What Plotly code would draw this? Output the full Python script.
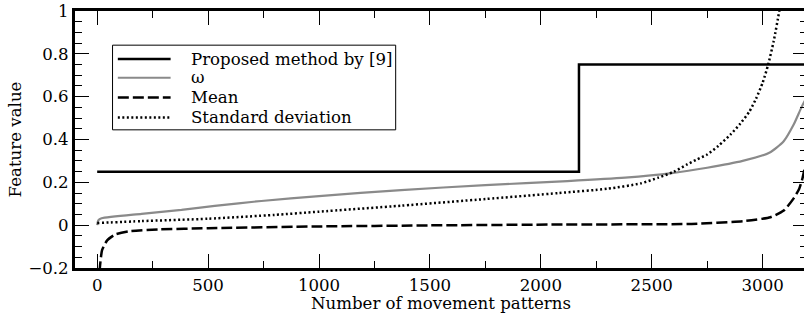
import plotly.graph_objects as go

# ---- data ----
proposed_x = [0, 2172, 3200]
proposed_y = [0.25, 0.75, 0.75]

omega_x = [0, 5, 20, 200, 380, 530, 740, 1000, 1370, 1750, 2120, 2380, 2590, 2750,
           2910, 3030, 3095, 3140, 3175, 3200]
omega_y = [0.0, 0.022, 0.032, 0.053, 0.071, 0.090, 0.113, 0.136, 0.164, 0.187, 0.206,
           0.222, 0.243, 0.268, 0.300, 0.338, 0.392, 0.47, 0.55, 0.60]

mean_x = [3, 8, 12, 22, 45, 82, 142, 277, 500, 1000, 1500, 2100, 2680, 2915, 3035,
          3095, 3140, 3165, 3180, 3200]
mean_y = [-0.5, -0.3, -0.2, -0.117, -0.071, -0.043, -0.029, -0.020, -0.014, -0.006,
          -0.001, 0.003, 0.006, 0.019, 0.037, 0.068, 0.125, 0.17, 0.22, 0.32]

std_x = [0, 200, 500, 800, 1000, 1370, 1750, 2080, 2300, 2450, 2530, 2600, 2660, 2700,
         2750, 2800, 2855, 2900, 2940, 2970, 3000, 3025, 3050, 3075, 3100]
std_y = [0.01, 0.019, 0.03, 0.048, 0.063, 0.091, 0.122, 0.15, 0.17, 0.195, 0.222, 0.25,
         0.284, 0.305, 0.33, 0.37, 0.423, 0.475, 0.53, 0.59, 0.665, 0.75, 0.86,
         1.0, 1.17]

names = ["Proposed method by [9]", "ω", "Mean", "Standard deviation"]

FONT = "DejaVu Serif"
FS = 16.6
GRAY = "#8a8a8a"
styles = [
    dict(color="black", width=2.5),
    dict(color=GRAY, width=2.2),
    dict(color="black", width=2.5, dash="11px,4px"),
    dict(color="black", width=2.5, dash="2px,2.5px"),
]

fig = go.Figure()
fig.add_trace(go.Scatter(x=proposed_x, y=proposed_y, mode="lines", name=names[0],
                         line=dict(**styles[0], shape="hv"), showlegend=False))
fig.add_trace(go.Scatter(x=omega_x, y=omega_y, mode="lines", name=names[1],
                         line=dict(**styles[1], shape="spline", smoothing=0.6), showlegend=False))
fig.add_trace(go.Scatter(x=mean_x, y=mean_y, mode="lines", name=names[2],
                         line=dict(**styles[2], shape="spline", smoothing=0.5), showlegend=False))
fig.add_trace(go.Scatter(x=std_x, y=std_y, mode="lines", name=names[3],
                         line=dict(**styles[3], shape="spline", smoothing=0.6), showlegend=False))

axis_common = dict(
    showline=True, linewidth=3, linecolor="black", mirror="ticks",
    ticks="inside", ticklen=14, tickwidth=1.2, tickcolor="black",
    showgrid=False, zeroline=False,
    tickfont=dict(family=FONT, size=FS, color="black"),
)

fig.update_xaxes(
    range=[-100, 3200], tick0=0, dtick=500,
    minor=dict(ticks="inside", ticklen=7, tickwidth=1.2, tickcolor="black", dtick=250, showgrid=False),
    title=dict(text="Number of movement patterns", font=dict(family=FONT, size=FS, color="black"),
               standoff=3),
    **axis_common,
)
fig.update_yaxes(
    range=[-0.2, 1], tick0=0, dtick=0.2,
    minor=dict(ticks="inside", ticklen=7, tickwidth=1.2, tickcolor="black", dtick=0.05, showgrid=False),
    title=dict(text="Feature value", font=dict(family=FONT, size=FS, color="black"), standoff=3),
    **axis_common,
)

# ---- legend drawn as a box with samples and text (pixel layout -> plot fractions) ----
W, H = 812, 313
ML, MR, MT, MB = 75, 2, 10, 45
PW, PH = W - ML - MR, H - MT - MB


def fx(px):
    return (px - ML) / PW


def fy(py):
    return (MT + PH - py) / PH


box = dict(left=112.7, top=44.3, right=397, bottom=129.3)
rows = [58.3, 77.0, 96.8, 117.0]
sample_x0, sample_x1, text_x = 118, 171, 189

fig.add_shape(type="rect", xref="paper", yref="paper", layer="above",
              x0=fx(box["left"]), x1=fx(box["right"]), y0=fy(box["bottom"]), y1=fy(box["top"]),
              line=dict(color="black", width=1), fillcolor="white")
for name, st, ry in zip(names, styles, rows):
    fig.add_shape(type="line", xref="paper", yref="paper", layer="above",
                  x0=fx(sample_x0), x1=fx(sample_x1), y0=fy(ry), y1=fy(ry), line=st)
    fig.add_annotation(text=name, xref="paper", yref="paper", x=fx(text_x), y=fy(ry),
                       xanchor="left", yanchor="middle", showarrow=False,
                       font=dict(family=FONT, size=FS, color="black"))

fig.update_layout(
    width=W, height=H,
    margin=dict(l=ML, r=MR, t=MT, b=MB),
    paper_bgcolor="white", plot_bgcolor="white",
    font=dict(family=FONT, size=FS, color="black"),
    showlegend=False,
)

fig.write_html("out.html", config={"displayModeBar": False},
               post_script="document.body.style.margin='0';document.body.style.overflow='hidden';document.documentElement.style.overflow='hidden';")
